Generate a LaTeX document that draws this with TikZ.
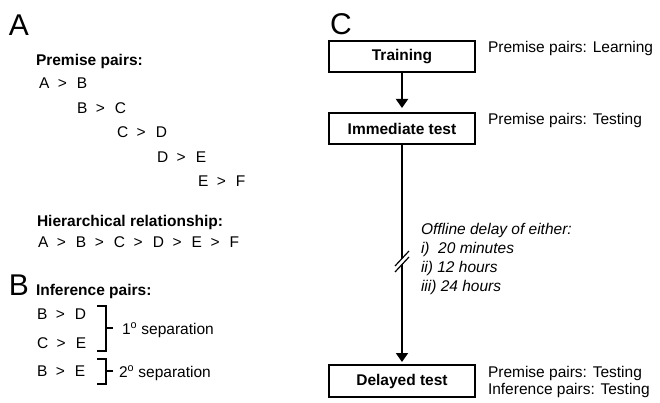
\documentclass[tikz,border=0pt]{standalone}
\usepackage{fontspec}
\setmainfont{Liberation Sans}
\usetikzlibrary{arrows.meta}
\newcommand{\pgt}{\hspace{0.55em}>\hspace{0.65em}}
\begin{document}
\begin{tikzpicture}[x=1pt,y=-1pt,
  every node/.style={inner sep=0pt,outer sep=0pt,font=\fontsize{15.5}{19}\selectfont},
  txt/.style={anchor=base west},
  bold/.style={anchor=base west,font=\fontsize{15.5}{19}\selectfont\bfseries},
  panel/.style={anchor=base west,font=\fontsize{30}{32}\selectfont},
  stage/.style={draw,line width=1.2pt,minimum width=146pt,minimum height=31pt,font=\fontsize{15.5}{19}\selectfont\bfseries},
  arr/.style={line width=1.9pt,-{Triangle[width=12pt,length=9pt]}},
  brk/.style={line width=1.2pt},
  delay/.style={anchor=base west,font=\fontsize{15.5}{19}\selectfont\itshape}]
\useasboundingbox (0,0) rectangle (660,403);
% Panel A
\node[panel] (lA) at (9,36) {A};
\node[bold] (pp) at (36,66) {Premise pairs:};
\node[txt] (p1) at (39,89) {A\pgt B};
\node[txt] (p2) at (77,114) {B\pgt C};
\node[txt] (p3) at (117,138) {C\pgt D};
\node[txt] (p4) at (157,163) {D\pgt E};
\node[txt] (p5) at (198,187) {E\pgt F};
\node[bold] (hr) at (37,226) {Hierarchical relationship:};
\node[txt] (hl) at (38,247) {A\pgt B\pgt C\pgt D\pgt E\pgt F};
% Panel B
\node[panel] (lB) at (9,295) {B};
\node[bold] (ip) at (36,295) {Inference pairs:};
\node[txt] (i1) at (37,319) {B\pgt D};
\node[txt] (i2) at (37,348) {C\pgt E};
\node[txt] (i3) at (37,376) {B\pgt E};
\draw[brk] (97,306) -- (106,306) -- (106,351) -- (97,351);
\draw[brk] (106,328) -- (113,328);
\draw[brk] (97,359) -- (106,359) -- (106,384) -- (97,384);
\draw[brk] (106,371) -- (113,371);
\node[txt] (s1) at (122,334) {1\textsuperscript{o} separation};
\node[txt] (s2) at (119,377) {2\textsuperscript{o} separation};
% Panel C
\node[panel] (lC) at (330,35) {C};
\node[stage] (tr) at (402,56.5) {Training};
\node[stage] (im) at (402,128.5) {Immediate test};
\node[stage,minimum height=32pt] (de) at (402,381) {Delayed test};
\node[txt] (trt) at (488,53) {Premise pairs: Learning};
\node[txt] (imt) at (488,125) {Premise pairs: Testing};
\node[txt] (det1) at (488,377) {Premise pairs: Testing};
\node[txt] (det2) at (488,394) {Inference pairs: Testing};
\draw[arr,shorten >=5pt] (tr) -- (im);
\draw[arr,shorten >=3pt] (im) -- (de);
\fill[white] (395,266) -- (409,251) -- (409,257) -- (395,272) -- cycle;
\draw[brk] (395,266) -- (409,251);
\draw[brk] (395,272) -- (409,257);
\node[delay] (d0) at (421,234) {Offline delay of either:};
\node[delay] (d1) at (421,253) {i)\ \ 20 minutes};
\node[delay] (d2) at (421,272) {ii) 12 hours};
\node[delay] (d3) at (421,291) {iii) 24 hours};
\end{tikzpicture}
\end{document}
